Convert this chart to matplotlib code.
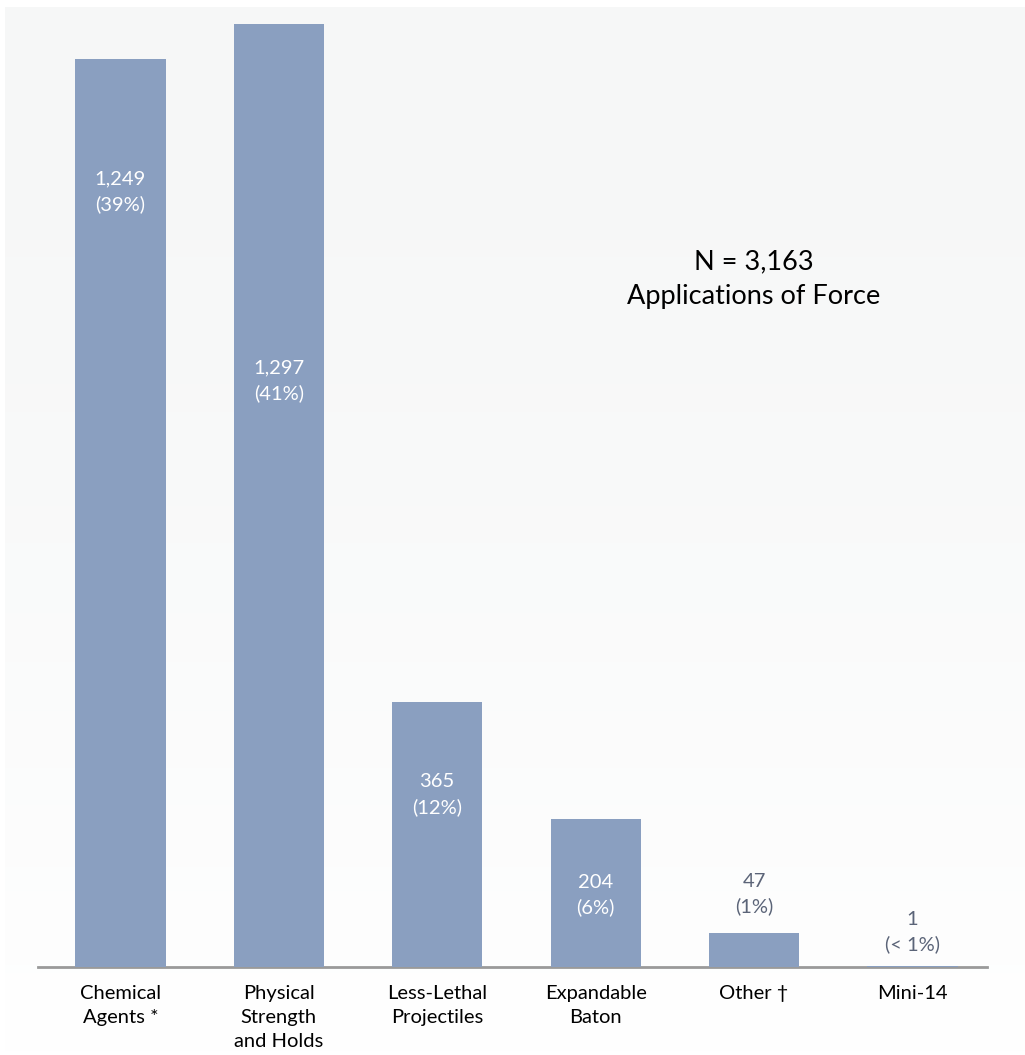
import numpy as np
import matplotlib
matplotlib.use("Agg")
import matplotlib.pyplot as plt

plt.rcParams['font.family'] = ['Lato', 'DejaVu Sans']

# data
categories = ["Chemical\nAgents *", "Physical\nStrength\nand Holds", "Less-Lethal\nProjectiles",
              "Expandable\nBaton", "Other †", "Mini-14"]
counts = [1249, 1297, 365, 204, 47, 1]
shares = ["39%", "41%", "12%", "6%", "1%", "< 1%"]
label_y = [1066, 806, 237, 99, 100, 48]   # where the value labels sit
inside = [True, True, True, True, False, False]

bar_color = "#8a9fc0"

fig = plt.figure(figsize=(10.25, 10.55), dpi=100)

# faint gradient panel behind the chart
bg = fig.add_axes([5 / 1025, 0, 1 - 5 / 1025, 1 - 7 / 1055], zorder=0)
grad = np.linspace(0, 1, 256).reshape(-1, 1)
top = np.array([0.965, 0.969, 0.969])
rgb = top + (1 - top) * grad[..., None] ** 1.5
bg.imshow(rgb, aspect="auto", extent=[0, 1, 0, 1], origin="upper")
bg.axis("off")

ax = fig.add_axes([38 / 1025, 88 / 1055, (987 - 38) / 1025, (967 - 7) / 1055], zorder=1)
ax.patch.set_alpha(0)

x = np.arange(len(counts))
ax.bar(x, counts, width=0.57, color=bar_color, zorder=3)

for i in range(len(counts)):
    txt = "{:,}\n({})".format(counts[i], shares[i])
    col = "white" if inside[i] else "#5b6478"
    ax.text(x[i], label_y[i], txt, ha="center", va="center", color=col,
            fontsize=14.5, linespacing=1.5, zorder=4)

ax.text(4.0, 946, "N = 3,163\nApplications of Force", ha="center", va="center",
        fontsize=19.5, color="black", linespacing=1.5)

ax.set_xlim(-0.52, 5.47)
ax.set_ylim(0, 1320)
ax.set_xticks(x)
ax.set_xticklabels(categories, fontsize=14.5, linespacing=1.5, va="top")
ax.tick_params(axis="x", length=0, pad=13)
ax.set_yticks([])
for s in ["top", "right", "left"]:
    ax.spines[s].set_visible(False)
ax.spines["bottom"].set_color("#9a9a9a")
ax.spines["bottom"].set_linewidth(2)

fig.savefig("out.png", dpi=100)
